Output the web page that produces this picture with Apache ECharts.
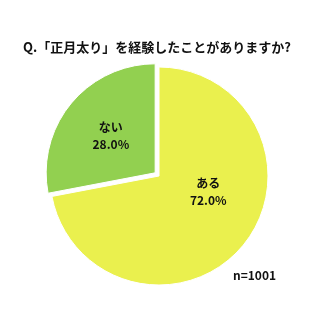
<!DOCTYPE html>
<html><head><meta charset="utf-8">
<script src="https://cdn.jsdelivr.net/npm/echarts@6/dist/echarts.min.js"></script>
<style>html,body{margin:0;padding:0;background:#fff}#c{width:320px;height:320px}</style>
</head><body><div id="c"></div>
<script>
var categories = ['ある', 'ない'];
var values = [72.0, 28.0];
var colors = ['#eaf04e', '#92d050'];
var titleText = 'Q.「正月太り」を経験したことがありますか?';
var sampleText = 'n=1001';

var chart = echarts.init(document.getElementById('c'));
var font = '"Noto Sans CJK JP", "Noto Sans", sans-serif';
var labelOffsets = [[5, -21], [-11, -7]];
chart.setOption({
  animation: false,
  title: [{
    text: titleText, left: 152, top: 36, textAlign: 'center',
    textStyle: {fontFamily: font, fontSize: 13, fontWeight: 'bold', color: '#111'}
  }, {
    text: sampleText, left: 228, top: 264,
    textStyle: {fontFamily: font, fontSize: 12, fontWeight: 'bold', color: '#111'}
  }],
  series: [{
    type: 'pie',
    center: [159, 176],
    radius: [0, 109],
    startAngle: 90,
    clockwise: true,
    selectedOffset: 5,
    selectedMode: 'multiple',
    itemStyle: {borderColor: '#fff', borderWidth: 1},
    label: {
      position: 'inside', fontFamily: font, fontSize: 12, fontWeight: 'bold', color: '#111',
      lineHeight: 17,
      formatter: function (p) { return p.name + '\n' + p.value.toFixed(1) + '%'; }
    },
    labelLine: {show: false},
    emphasis: {disabled: true},
    data: categories.map(function (c, i) {
      return {name: c, value: values[i], selected: i === 1,
        itemStyle: {color: colors[i]}, label: {offset: labelOffsets[i]}};
    })
  }]
});
</script></body></html>
